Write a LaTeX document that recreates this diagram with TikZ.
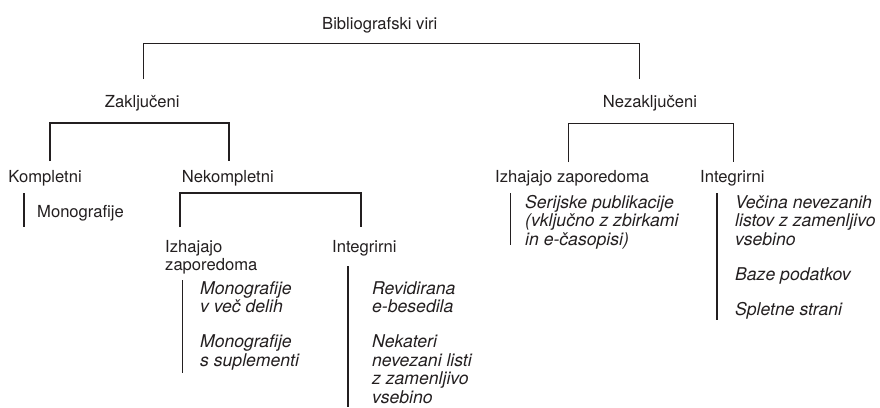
\documentclass[tikz,border=0pt]{standalone}
\usepackage{fontspec}
\setmainfont{TeX Gyre Heros}
\usepackage{xcolor}
\definecolor{cInk}{HTML}{231F20}
\usepackage{tikz}
\usetikzlibrary{positioning,calc}
\tikzset{
  node-lbl/.style={inner sep=0pt,anchor=base west,align=left,text=cInk,
    font=\fontsize{16.6}{18.3}\selectfont},
  node-items/.style={node-lbl,font=\fontsize{17.6}{18.5}\selectfont\itshape},
  % tanke in debele veje drevesa
  tree-thin/.style={draw=cInk,line width=0.8pt},
  tree-thick/.style={draw=cInk,line width=1.6pt},
}

\begin{document}
\begin{tikzpicture}[x=1pt,y=1pt]
  \useasboundingbox[fill=white] (0,0) rectangle (880,-407);
  % vecvrsticna vozlisca: base = osnovnica zadnje vrstice
  \node[node-lbl] (root) at (322,-29.5) {Bibliografski viri};
  \node[node-lbl] (zakl) at (104.7,-107) {Zaključeni};
  \node[node-lbl] (nezakl) at (602.7,-107) {Nezaključeni};
  \node[node-lbl] (kompl) at (8.3,-182) {Kompletni};
  \node[node-lbl] (nekompl) at (181.7,-182) {Nekompletni};
  \node[node-lbl] (izh-r) at (495,-182) {Izhajajo zaporedoma};
  \node[node-lbl] (int-r) at (700,-182) {Integrirni};
  \node[node-lbl] (izh-l) at (165,-270.3) {Izhajajo\\zaporedoma};
  \node[node-lbl] (int-l) at (332,-252) {Integrirni};

  \node[node-lbl] (kompl-items) at (37,-217) {Monografije};
  \node[node-items] (izh-l-items) at (200,-366)
    {Monografije\\v več delih\\[16.5pt]Monografije\\s suplementi};
  \node[node-items] (int-l-items) at (372,-403)
    {Revidirana\\e-besedila\\[16.5pt]Nekateri\\nevezani listi\\z zamenljivo\\vsebino};
  \node[node-items] (izh-r-items) at (525,-245)
    {Serijske publikacije\\(vključno z zbirkami\\in e-časopisi)};
  \node[node-items] (int-r-items) at (735,-315)
    {Večina nevezanih\\listov z zamenljivo\\vsebino\\[16.5pt]Baze podatkov\\[16.5pt]Spletne strani};

  \coordinate (zakl-stem) at (143,-79);
  \coordinate (nezakl-stem) at (639,-79);
  \coordinate (kompl-stem) at (50,-161);
  \coordinate (nekompl-stem) at (229,-161);
  \coordinate (izh-r-stem) at (568,-162);
  \coordinate (int-r-stem) at (733,-162);
  \coordinate (izh-l-stem) at (180,-227);
  \coordinate (int-l-stem) at (361,-227);

  \draw[tree-thin] (zakl-stem) -- ++(0,36) -| (nezakl-stem);
  \draw[tree-thick] (kompl-stem) -- ++(0,38) -| (nekompl-stem);
  \draw[tree-thin] (izh-r-stem) -- ++(0,39) -| (int-r-stem);
  \draw[tree-thick] (izh-l-stem) -- ++(0,34) -| (int-l-stem);

  \draw[tree-thick] (kompl-items.base west) ++(-13,24) -- ++(0,-34);
  \draw[tree-thin] (izh-l-items.base west) ++(-18,86) -- ++(0,-93);
  \draw[tree-thick] (int-l-items.base west) ++(-24,137) -- ++(0,-141);
  \draw[tree-thin] (izh-r-items.base west) ++(-15,52) -- ++(0,-52);
  \draw[tree-thick] (int-r-items.base west) ++(-18,122) -- ++(0,-127);
\end{tikzpicture}
\end{document}
